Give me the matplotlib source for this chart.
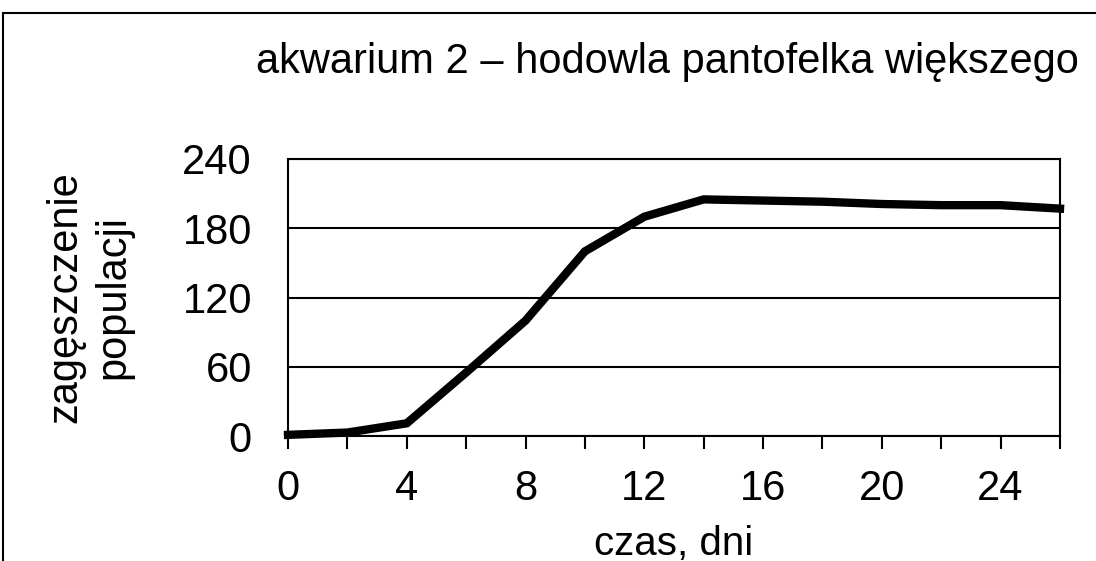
import matplotlib.pyplot as plt
from matplotlib.patches import Rectangle

plt.rcParams['font.family'] = ['Liberation Sans', 'DejaVu Sans']

# data
days = [0, 2, 4, 6, 8, 10, 12, 14, 16, 18, 20, 22, 24, 26]
density = [1, 3, 11, 55, 100, 160, 190, 205, 204, 203, 201, 200, 200, 197]
y_ticks = [0, 60, 120, 180, 240]
x_ticks = list(range(0, 27, 2))
x_labels = [str(d) if d % 4 == 0 else '' for d in x_ticks]

W, H = 1096, 561
fig = plt.figure(figsize=(W / 100, H / 100), dpi=100)
ax = fig.add_axes([288 / W, 1 - 436 / H, (1060 - 288) / W, (436 - 159) / H])

# outer frame (cut off on the right and bottom)
fig.patches.append(Rectangle((3 / W, -0.1), 1.2, 1 - 13 / H + 0.1,
                             transform=fig.transFigure, fill=False,
                             edgecolor='black', linewidth=1.5))

ax.plot(days, density, color='black', linewidth=6, solid_joinstyle='miter', clip_on=False)

ax.set_xlim(0, 26)
ax.set_ylim(0, 240)
ax.set_yticks(y_ticks)
ax.set_xticks(x_ticks)
ax.set_xticklabels(x_labels)
ax.yaxis.grid(True, color='black', linewidth=1.5)
ax.set_axisbelow(True)
for s in ax.spines.values():
    s.set_linewidth(1.5)
    s.set_color('black')
ax.tick_params(axis='x', length=9, width=1.5, direction='out', labelsize=30, pad=15)
ax.tick_params(axis='y', length=0, labelsize=30, pad=26)

fig.text(256 / W, 1 - 73 / H, 'akwarium 2 \u2013 hodowla pantofelka wi\u0119kszego',
         ha='left', va='baseline', fontsize=30)
fig.text(89 / W, 1 - 297 / H, 'zag\u0119szczenie\npopulacji', rotation=90,
         ha='center', va='center', fontsize=30, linespacing=1.25)
fig.text(674 / W, 1 - 555 / H, 'czas, dni', ha='center', va='baseline', fontsize=29)

fig.savefig('out.png', dpi=100)
